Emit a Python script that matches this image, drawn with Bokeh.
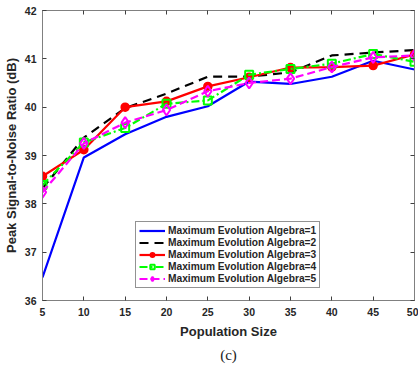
from bokeh.plotting import figure
from bokeh.models import Legend, LegendItem, LinearAxis, Title, FixedTicker, CustomJSTickFormatter
from bokeh.embed import file_html
from bokeh.resources import INLINE

pop_size = [5, 10, 15, 20, 25, 30, 35, 40, 45, 50]
psnr_1 = [36.48, 38.96, 39.44, 39.80, 40.02, 40.53, 40.48, 40.63, 40.96, 40.78]
psnr_2 = [38.32, 39.37, 39.98, 40.28, 40.63, 40.63, 40.72, 41.07, 41.13, 41.18]
psnr_3 = [38.57, 39.12, 40.00, 40.12, 40.43, 40.62, 40.82, 40.83, 40.86, 41.09]
psnr_4 = [38.39, 39.27, 39.57, 40.07, 40.14, 40.67, 40.79, 40.90, 41.10, 40.94]
psnr_5 = [38.24, 39.25, 39.68, 39.94, 40.33, 40.50, 40.59, 40.83, 41.03, 41.07]
labels = ["Maximum Evolution Algebra=1", "Maximum Evolution Algebra=2",
          "Maximum Evolution Algebra=3", "Maximum Evolution Algebra=4",
          "Maximum Evolution Algebra=5"]
x_ticks = [5, 10, 15, 20, 25, 30, 35, 40, 45, 50]
y_ticks = [36, 37, 38, 39, 40, 41, 42]

FONT = "Liberation Sans"
TXT = "#262626"

p = figure(width=418, height=365, x_range=(5, 50), y_range=(36, 42),
           output_backend="svg", toolbar_location=None,
           min_border_left=0, min_border_right=4, min_border_top=10, min_border_bottom=0,
           x_axis_location=None, y_axis_location=None)
p.grid.visible = False
p.outline_line_color = "#808080"
p.outline_line_width = 1
p.background_fill_color = "white"
p.border_fill_color = "white"

def style_axis(ax, show_labels=True):
    ax.axis_line_color = "#808080"
    ax.major_tick_line_color = "#404040"
    ax.major_tick_in = 4
    ax.major_tick_out = 0
    ax.minor_tick_in = 0
    ax.minor_tick_out = 0
    ax.major_label_text_font = FONT
    ax.major_label_text_font_style = "bold"
    ax.major_label_text_font_size = "10.5px"
    ax.major_label_text_color = TXT
    ax.axis_label_text_font = FONT
    ax.axis_label_text_font_style = "bold"
    ax.axis_label_text_font_size = "13px"
    ax.axis_label_text_color = TXT
    if not show_labels:
        ax.formatter = CustomJSTickFormatter(code="return '';")
        ax.major_label_standoff = 0

xb = LinearAxis(ticker=FixedTicker(ticks=x_ticks), axis_label="Population Size")
style_axis(xb)
xb.major_label_standoff = 7
xb.axis_label_standoff = 5
p.add_layout(xb, "below")

yl = LinearAxis(ticker=FixedTicker(ticks=y_ticks), axis_label="Peak Signal-to-Noise Ratio (dB)")
style_axis(yl)
yl.major_label_standoff = 6
yl.axis_label_standoff = 3
p.add_layout(yl, "left")

xt = LinearAxis(ticker=FixedTicker(ticks=x_ticks))
style_axis(xt, False)
p.add_layout(xt, "above")
yr = LinearAxis(ticker=FixedTicker(ticks=y_ticks))
style_axis(yr, False)
p.add_layout(yr, "right")

cap = Title(text="(c)", align="center", text_font="Liberation Serif",
            text_font_size="15px", text_font_style="normal", text_color="#202020",
            standoff=6, offset=0)
p.add_layout(cap, "below")

lw = 2.2
r1 = p.line(pop_size, psnr_1, line_color="#0000FF", line_width=lw)
r2 = p.line(pop_size, psnr_2, line_color="black", line_width=lw, line_dash="9 6")
r3 = p.line(pop_size, psnr_3, line_color="#FF0000", line_width=lw)
m3 = p.scatter(pop_size, psnr_3, marker="circle", size=8, fill_color="#FF0000",
               line_color="#FF0000", line_width=1.5)
r4 = p.line(pop_size, psnr_4, line_color="#00FF00", line_width=lw, line_dash="8 3 2 3")
m4 = p.scatter(pop_size, psnr_4, marker="square", size=8, fill_alpha=0,
               line_color="#00FF00", line_width=2)
r5 = p.line(pop_size, psnr_5, line_color="#FF00FF", line_width=lw, line_dash="8 4")
m5 = p.scatter(pop_size, psnr_5, marker="diamond", size=11, fill_alpha=0,
               line_color="#FF00FF", line_width=2)

legend = Legend(items=[
    LegendItem(label=labels[0], renderers=[r1]),
    LegendItem(label=labels[1], renderers=[r2]),
    LegendItem(label=labels[2], renderers=[r3, m3]),
    LegendItem(label=labels[3], renderers=[r4, m4]),
    LegendItem(label=labels[4], renderers=[r5, m5]),
], location=(93, 12))
legend.label_text_font = FONT
legend.label_text_font_style = "bold"
legend.label_text_font_size = "10.2px"
legend.label_text_color = TXT
legend.label_height = 11
legend.glyph_height = 11
legend.glyph_width = 26
legend.spacing = 1
legend.padding = 3
legend.margin = 0
legend.label_standoff = 3
legend.border_line_color = "#262626"
legend.border_line_width = 1
legend.background_fill_color = "white"
legend.background_fill_alpha = 1
p.add_layout(legend, "center")

open("out.html", "w").write(file_html(p, INLINE))
